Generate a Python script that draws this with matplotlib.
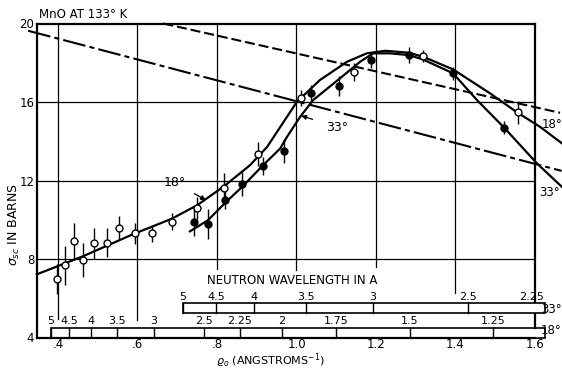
import matplotlib
matplotlib.use("Agg")
import matplotlib.pyplot as plt
from matplotlib.patches import Rectangle

plt.rcParams['font.family'] = ['DejaVu Sans']
plt.rcParams['mathtext.fontset'] = 'dejavusans'

# ---------------- data ----------------
# open circles: 18 degree scattering angle
q_open = [0.397, 0.418, 0.441, 0.464, 0.491, 0.523, 0.553, 0.594, 0.637, 0.688,
          0.749, 0.818, 0.904, 1.011, 1.145, 1.319, 1.556]
s_open = [7.00, 7.68, 8.92, 7.97, 8.79, 8.84, 9.58, 9.30, 9.30, 9.89,
          10.60, 11.62, 13.34, 16.20, 17.54, 18.36, 15.47]
e_open = [0.77, 1.0, 0.9, 0.87, 0.77, 0.72, 0.6, 0.55, 0.43, 0.43,
          0.54, 0.77, 0.6, 0.4, 0.46, 0.3, 0.58]

# filled circles: 33 degree scattering angle
q_fill = [0.742, 0.778, 0.821, 0.862, 0.915, 0.969, 1.036, 1.107, 1.187, 1.283, 1.394, 1.522]
s_fill = [9.89, 9.77, 11.02, 11.81, 12.74, 13.49, 16.44, 16.81, 18.12, 18.39, 17.46, 14.70]
e_fill = [0.7, 0.77, 0.48, 0.6, 0.46, 0.6, 0.43, 0.5, 0.4, 0.4, 0.33, 0.33]

# smooth curve through 18 degree data
q_c18 = [0.347, 0.463, 0.594, 0.631, 0.687, 0.750, 0.818, 0.883, 0.926, 1.001, 1.059,
         1.127, 1.177, 1.223, 1.283, 1.318, 1.394, 1.487, 1.555, 1.613, 1.668]
s_c18 = [7.22, 8.14, 9.31, 9.60, 10.06, 10.74, 11.71, 12.78, 13.71, 16.01, 17.12,
         18.05, 18.48, 18.61, 18.51, 18.31, 17.66, 16.44, 15.47, 14.73, 13.89]

# smooth curve through 33 degree data
q_c33 = [0.732, 0.777, 0.823, 0.863, 0.916, 0.959, 0.976, 1.009, 1.042, 1.109, 1.160,
         1.193, 1.235, 1.283, 1.318, 1.394, 1.454, 1.522, 1.605, 1.668]
s_c33 = [9.41, 9.97, 10.91, 11.67, 12.78, 13.63, 14.22, 15.24, 16.10, 17.20, 18.05,
         18.48, 18.48, 18.39, 18.17, 17.46, 16.10, 14.70, 12.87, 11.67]

# straight reference lines
q_dash = [0.665, 1.663]
s_dash = [20.0, 15.45]
q_dashdot = [0.325, 1.667]
s_dashdot = [19.63, 12.49]

# axis ticks
x_ticks = [0.4, 0.6, 0.8, 1.0, 1.2, 1.4, 1.6]
x_ticklabels = [".4", ".6", ".8", "1.0", "1.2", "1.4", "1.6"]
y_ticks = [4, 8, 12, 16, 20]
y_ticklabels = ["4", "8", "12", "16", "20"]

# neutron wavelength scales (positions on the q axis)
lam33_labels = ["5", "4.5", "4", "3.5", "3", "2.5", "2.25"]
lam33_q = [0.7145, 0.7975, 0.8931, 1.0239, 1.1925, 1.4314, 1.5925]
lam18_labels = ["5", "4.5", "4", "3.5", "3", "2.5", "2.25", "2", "1.75", "1.5", "1.25"]
lam18_q = [0.3824, 0.4277, 0.4830, 0.5484, 0.6415, 0.7673, 0.8579, 0.9635, 1.0994, 1.2855, 1.4943]

# ---------------- figure ----------------
fig = plt.figure(figsize=(5.62, 3.69), dpi=100)
ax = fig.add_axes([37 / 562, 1 - 337.5 / 369, (535 - 37) / 562, 314 / 369])
ax.set_xlim(0.3472, 1.6)
ax.set_ylim(4, 20)

for side in ['left', 'top', 'bottom']:
    ax.spines[side].set_linewidth(1.6)
ax.spines['right'].set_visible(False)
ax.plot([1.6, 1.6], [4.5, 20], color='black', lw=1.6, clip_on=False, zorder=3)

ax.set_xticks(x_ticks)
ax.set_xticklabels(x_ticklabels)
ax.set_yticks(y_ticks)
ax.set_yticklabels(y_ticklabels)
ax.tick_params(axis='both', length=0, labelsize=8.5)
ax.tick_params(axis='x', pad=0.5)
ax.tick_params(axis='y', pad=2)

# grid lines
grid_kw = dict(color='black', lw=0.9, zorder=1)
for yv in [8, 12, 16]:
    ax.plot([0.3472, 1.6], [yv, yv], **grid_kw)
grid_bottoms = {0.4: 4.95, 0.6: 4.9, 0.8: 7.5, 1.0: 7.45, 1.2: 7.6, 1.4: 6.25}
for xv, lo in grid_bottoms.items():
    ax.plot([xv, xv], [lo, 20], **grid_kw)

# reference lines
ax.plot(q_dash, s_dash, color='black', lw=1.5, dashes=(4.8, 1.9), clip_on=False, zorder=2)
ax.plot(q_dashdot, s_dashdot, color='black', lw=1.5, dashes=(11, 2, 2.4, 2), clip_on=False, zorder=2)

# curves
ax.plot(q_c18, s_c18, color='black', lw=1.6, clip_on=False, zorder=3)
ax.plot(q_c33, s_c33, color='black', lw=1.6, clip_on=False, zorder=3)

# data
ax.errorbar(q_open, s_open, yerr=e_open, fmt='o', ms=5, mfc='white', mec='black',
            mew=1.0, ecolor='black', elinewidth=1.0, capsize=0, zorder=4)
ax.errorbar(q_fill, s_fill, yerr=e_fill, fmt='o', ms=5, mfc='black', mec='black',
            ecolor='black', elinewidth=1.0, capsize=0, zorder=4)

# wavelength scales
ax.add_patch(Rectangle((0.3824, 4.0), 1.625 - 0.3824, 0.5, fill=False, ec='black',
                       lw=1.2, clip_on=False, zorder=3))
ax.add_patch(Rectangle((0.7145, 5.23), 1.625 - 0.7145, 0.51, fill=True, fc='white', ec='black',
                       lw=1.2, clip_on=False, zorder=3))
for qv in lam18_q:
    ax.plot([qv, qv], [4.0, 4.5], color='black', lw=1.0, zorder=3)
for qv in lam33_q[:-1]:
    ax.plot([qv, qv], [5.23, 5.74], color='black', lw=1.0, zorder=3)
for lab, qv in zip(lam18_labels, lam18_q):
    ax.text(qv, 4.58, lab, ha='center', va='bottom', fontsize=8)
for lab, qv in zip(lam33_labels, lam33_q):
    ax.text(qv, 5.8, lab, ha='center', va='bottom', fontsize=8)
ax.text(0.99, 6.55, "NEUTRON WAVELENGTH IN A", ha='center', va='bottom', fontsize=8.5)
ax.text(1.615, 5.45, "33°", ha='left', va='center', fontsize=8.5, clip_on=False)
ax.text(1.615, 4.35, "18°", ha='left', va='center', fontsize=8.5, clip_on=False)

# curve labels
ax.annotate("18°", xy=(0.772, 11.0), xytext=(0.693, 11.9), fontsize=9,
            ha='center', va='center',
            arrowprops=dict(arrowstyle='-|>', color='black', lw=0.9, mutation_scale=7,
                            shrinkA=5, shrinkB=0))
ax.annotate("33°", xy=(1.012, 15.3), xytext=(1.102, 14.72), fontsize=9,
            ha='center', va='center',
            arrowprops=dict(arrowstyle='-|>', color='black', lw=0.9, mutation_scale=7,
                            shrinkA=8, shrinkB=0))
ax.text(1.617, 14.87, "18°", ha='left', va='center', fontsize=8.5, clip_on=False)
ax.text(1.61, 11.4, "33°", ha='left', va='center', fontsize=8.5, clip_on=False)

# title and axis labels
ax.text(0.004, 1.008, "MnO AT 133° K", transform=ax.transAxes, ha='left', va='bottom',
        fontsize=8.5)
ax.text(-0.046, 0.36, r"$\sigma_{sc}$ IN BARNS", transform=ax.transAxes, rotation=90,
        ha='center', va='center', fontsize=9)
ax.text(0.935, 2.64, r"$\varrho_{o}$ (ANGSTROMS$^{-1}$)", ha='center', va='baseline', fontsize=8)

fig.savefig("out.png", dpi=100)
